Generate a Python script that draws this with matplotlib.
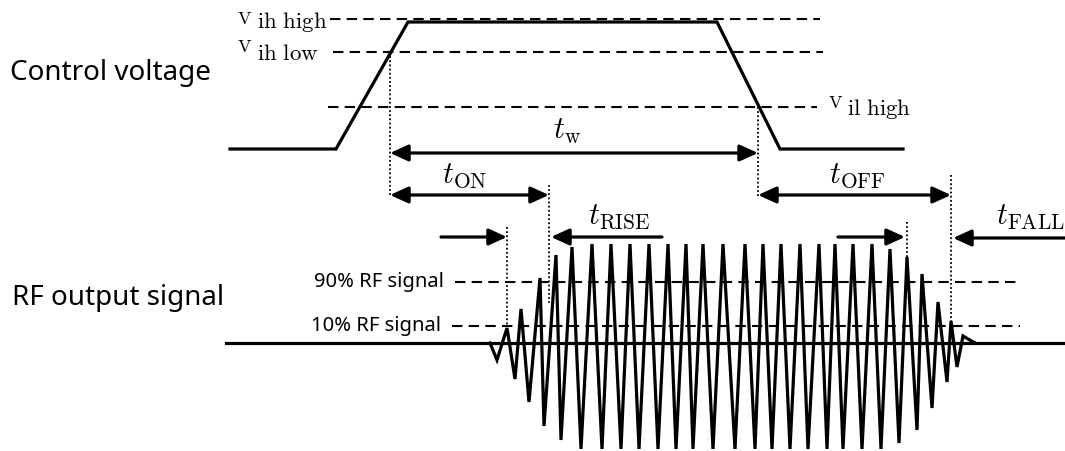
import matplotlib
matplotlib.use("Agg")
from matplotlib import pyplot as plt

plt.rcParams["mathtext.fontset"] = "cm"
plt.rcParams["font.family"] = ["Noto Sans", "DejaVu Sans"]

# %% timing diagram, horizontal axis = time, vertical axis = level (drawn top-down)
# control voltage trace
ctrl_t = [230, 336, 408, 717, 780, 903]
ctrl_v = [149, 149, 22, 22, 149, 149]

# threshold levels of the control voltage
thr_names = ["ih high", "ih low", "il high"]
thr_level = [19, 52, 107]
thr_start = [330, 333, 328]
thr_end = [820, 823, 817]

# RF output burst (peaks and troughs in order)
rf_t = [490, 497, 507, 515, 521, 529, 540, 544, 556, 561, 572, 581, 592, 602,
        611, 621, 630, 639, 649, 658, 668, 676, 686, 693, 703, 713, 723, 735,
        745, 755, 763, 772, 781, 790, 800, 808, 819, 827, 835, 843, 853, 862,
        872, 881, 890, 899, 907, 917, 922, 932, 938, 947, 951, 957, 963, 975]
rf_v = [343, 360, 328, 379, 309, 402, 278, 426, 255, 440, 247, 449, 244, 449,
        244, 449, 244, 449, 244, 449, 244, 449, 244, 449, 244, 449, 244, 449,
        244, 449, 244, 449, 244, 449, 244, 449, 244, 449, 244, 449, 244, 449,
        244, 449, 249, 443, 257, 430, 274, 408, 302, 382, 321, 367, 336, 343]
rf_base = 343
rf_span = [226, 1065]

# 90 % / 10 % RF levels
rf_names = ["90% RF signal", "10% RF signal"]
rf_level = [282, 326]
rf_start = [455, 452]
rf_end = [1020, 1020]

# dotted markers: time, top, bottom
mark_t = [390, 758, 549, 951, 507, 907]
mark_top = [52, 107, 185, 175, 227, 222]
mark_bot = [197, 197, 303, 325, 327, 257]

# interval arrows: start, end, level, two-headed?
arr_from = [390, 390, 758, 441, 662, 838, 1065]
arr_to = [758, 549, 951, 507, 551, 905, 953]
arr_y = [153, 195, 195, 237, 237, 237, 238]
arr_both = [True, True, True, False, False, False, False]

# interval names
t_names = [r"$t_{\mathrm{w}}$", r"$t_{\mathrm{ON}}$", r"$t_{\mathrm{OFF}}$",
           r"$t_{\mathrm{RISE}}$", r"$t_{\mathrm{FALL}}$"]
t_x = [553, 442, 829, 588, 996]
t_y = [139, 183, 183, 224, 225]

# %%
fig = plt.figure(figsize=(10.65, 4.51), dpi=100)
ax = fig.add_axes([0, 0, 1, 1])
ax.set_xlim(0, 1065)
ax.set_ylim(451, 0)
ax.axis("off")

lw = 2.3
ax.plot(ctrl_t, ctrl_v, "k-", lw=lw, solid_joinstyle="miter")
for name, lvl, a, b in zip(thr_names, thr_level, thr_start, thr_end):
    ax.plot([a, b], [lvl, lvl], "k", lw=1.5, dashes=[5, 3])

ax.plot(rf_span, [rf_base, rf_base], "k-", lw=lw)
ax.plot(rf_t, rf_v, "k-", lw=lw, solid_joinstyle="miter")
for name, lvl, a, b in zip(rf_names, rf_level, rf_start, rf_end):
    ax.plot([a, b], [lvl, lvl], "k", lw=1.5, dashes=[5, 3])
    ax.text(a - 11, lvl, name, ha="right", va="center", fontsize=14.5)

for t, a, b in zip(mark_t, mark_top, mark_bot):
    ax.plot([t, t], [a, b], "k", lw=1.3, linestyle=(0, (1, 1.3)))

for a, b, y, both in zip(arr_from, arr_to, arr_y, arr_both):
    style = "<|-|>" if both else "-|>"
    ax.annotate("", xy=(b, y), xytext=(a, y),
                arrowprops=dict(arrowstyle=style + ",head_length=0.55,head_width=0.25",
                                mutation_scale=20, lw=2.3, color="black",
                                shrinkA=0, shrinkB=0))

for s, x, y in zip(t_names, t_x, t_y):
    ax.text(x, y, s, ha="left", va="baseline", fontsize=22)

# threshold labels: small upright V followed by the level name
ax.text(237, 24, r"$\mathrm{V}$", ha="left", va="baseline", fontsize=13)
ax.text(257, 28, r"$\mathrm{ih\ high}$", ha="left", va="baseline", fontsize=16.5)
ax.text(237, 52, r"$\mathrm{V}$", ha="left", va="baseline", fontsize=13)
ax.text(257, 60, r"$\mathrm{ih\ low}$", ha="left", va="baseline", fontsize=16.5)
ax.text(828, 108, r"$\mathrm{V}$", ha="left", va="baseline", fontsize=13)
ax.text(847, 115, r"$\mathrm{il\ high}$", ha="left", va="baseline", fontsize=16.5)

ax.text(10, 73, "Control voltage", ha="left", va="center", fontsize=20)
ax.text(12, 298, "RF output signal", ha="left", va="center", fontsize=20)

fig.savefig("out.png", dpi=100)
